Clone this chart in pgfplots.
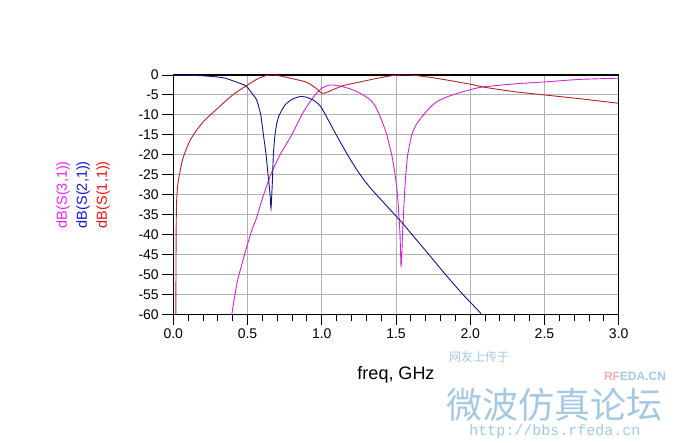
\documentclass[border=0pt]{standalone}
\usepackage{pgfplots}
\pgfplotsset{compat=1.18}
\usepackage{fontspec}
\setmainfont{Liberation Sans}
\newfontfamily\cjk{Noto Sans CJK SC}
\newfontfamily\wmmono{Liberation Mono}

\definecolor{magc}{RGB}{205,40,205}
\definecolor{bluc}{RGB}{20,20,140}
\definecolor{redc}{RGB}{175,35,35}
\definecolor{magl}{RGB}{235,40,235}
\definecolor{blul}{RGB}{20,20,210}
\definecolor{redl}{RGB}{225,20,20}
\definecolor{wm}{RGB}{165,200,228}
\definecolor{wmred}{RGB}{240,175,190}

\begin{document}
\begin{tikzpicture}
\path[use as bounding box] (0pt,0pt) rectangle (690pt,443pt);

\begin{axis}[
    at={(173.3pt,128.7pt)}, anchor=south west,
    scale only axis,
    width=445.4pt, height=239.3pt,
    xmin=0, xmax=3, ymin=-60, ymax=0,
    xtick={0,0.5,...,3.0},
    ytick={-60,-55,...,0},
    minor x tick num=4,
    tick align=outside,
    xtick pos=bottom, ytick pos=left,
    major tick length=11pt, minor tick length=7pt,
    tick style={black, line width=0.9pt},
    axis line style={black, line width=1.2pt},
    grid=major,
    major grid style={black!30, line width=0.9pt},
    /pgf/number format/assume math mode=true,
    ticklabel style={font=\fontsize{14}{16}\selectfont},
    xticklabel style={/pgf/number format/.cd, fixed, fixed zerofill, precision=1},
    yticklabel style={/pgf/number format/.cd, fixed, precision=0},
    every axis x label/.style={at={(axis description cs:0.5,-0.2536)}, anchor=center,
      font=\fontsize{18}{20}\selectfont},
    every axis y label/.style={at={(axis description cs:-0.2027,0.5)}, anchor=center,
      rotate=90, align=center, font=\fontsize{14.5}{20}\selectfont},
    xlabel={freq, GHz},
    ylabel={{\color{magl}dB(S(3,1))}\\{\color{blul}dB(S(2,1))}\\{\color{redl}dB(S(1,1))}},
    no markers,
]
% dB(S(3,1))
\addplot[magc, line width=0.9pt, smooth, tension=0.35] coordinates {
  (0.39,-61) (0.43,-52) (0.483,-44.6) (0.528,-39) (0.557,-36.2) (0.6,-31)
  (0.656,-25) (0.719,-20) (0.798,-15) (0.865,-10) (0.91,-7.3) (0.955,-5)
  (1.0,-3.3) (1.056,-2.5) (1.123,-2.75) (1.2,-3.6) (1.26,-4.6) (1.3255,-6.2)
  (1.36,-7.8) (1.388,-10) (1.415,-12.5) (1.438,-15) (1.471,-20) (1.494,-25)
  (1.510,-30) (1.519,-35) (1.527,-40) (1.534,-48) (1.540,-44) (1.544,-40)
  (1.557,-30) (1.566,-25) (1.579,-20) (1.606,-15) (1.64,-12.2) (1.685,-10)
  (1.73,-8.1) (1.775,-6.7) (1.85,-5.4) (1.932,-4.4) (2.067,-3.1) (2.29,-2.25)
  (2.516,-1.7) (2.74,-1.1) (3.0,-0.8)
};
% dB(S(2,1))
\addplot[bluc, line width=0.9pt, smooth, tension=0.35] coordinates {
  (0,0) (0.1,-0.05) (0.2,-0.2) (0.3,-0.5) (0.35,-0.8) (0.42,-1.7) (0.49,-2.75)
  (0.53,-4.6) (0.562,-6.3) (0.589,-10) (0.607,-15) (0.625,-20) (0.638,-25)
  (0.652,-30) (0.658,-33.5) (0.667,-27) (0.674,-20) (0.685,-15) (0.698,-12)
  (0.714,-10) (0.753,-7.5) (0.8,-6.1) (0.854,-5.4) (0.9,-5.6) (0.943,-6.3)
  (0.975,-7.2) (1.0,-8.3) (1.067,-12.9) (1.123,-16.7) (1.18,-20.4) (1.236,-23.75)
  (1.29,-26.6) (1.348,-29.2) (1.40,-31.3) (1.46,-33.75) (1.54,-37.0)
  (1.617,-40.4) (1.73,-45.4) (1.842,-50.4) (1.95,-55.0) (2.067,-59.6) (2.09,-61)
};
% dB(S(1,1))
\addplot[redc, line width=0.9pt, smooth, tension=0.35] coordinates {
  (0.017,-62) (0.019,-40) (0.022,-32) (0.03,-27.5) (0.04,-25.2) (0.06,-21.5)
  (0.08,-19.3) (0.11,-16.6) (0.15,-14.2) (0.2,-11.8) (0.25,-10.0) (0.3,-8.3)
  (0.35,-6.6) (0.4,-5.0) (0.45,-3.7) (0.49,-2.75) (0.53,-1.8) (0.57,-0.9)
  (0.62,-0.2) (0.66,0) (0.69,-0.05) (0.74,-0.4) (0.8,-0.9) (0.89,-1.7)
  (0.93,-2.5) (0.97,-3.6) (1.0,-4.6) (1.03,-4.4) (1.08,-3.6) (1.15,-2.6)
  (1.25,-1.8) (1.35,-1.0) (1.45,-0.3) (1.5,-0.05) (1.55,0) (1.6,0)
  (1.65,-0.2) (1.75,-0.7) (1.85,-1.3) (2.0,-2.3) (2.1,-3.1) (2.3,-4.2)
  (2.5,-5.0) (2.75,-6.0) (3.0,-7.1)
};
\end{axis}

% watermark
\node[text=wm, anchor=center, font=\cjk\fontsize{12}{12}\selectfont] at (479pt,86pt) {网友上传于};
\node[anchor=center, font=\bfseries\fontsize{12}{12}\selectfont] at (635pt,67pt)
  {\textcolor{wmred}{RF}\textcolor{wm}{EDA.CN}};
\node[text=wm, anchor=center, font=\cjk\fontsize{36}{36}\selectfont] at (554pt,38pt) {微波仿真论坛};
\node[text=wm, anchor=center, font=\wmmono\fontsize{15}{15}\selectfont] at (555pt,11pt) {http://bbs.rfeda.cn};
\end{tikzpicture}
\end{document}
